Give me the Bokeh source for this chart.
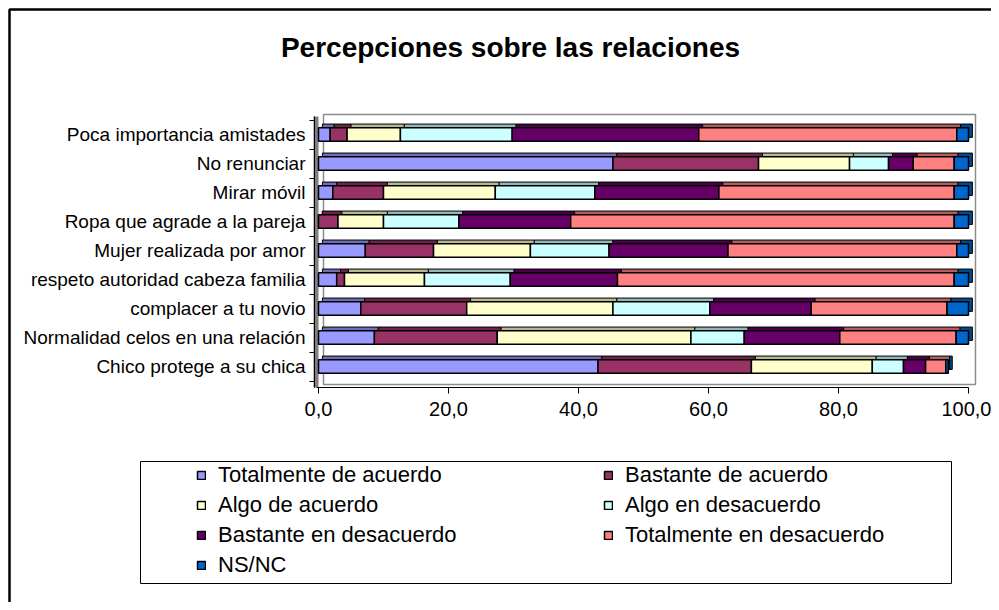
from bokeh.plotting import figure
from bokeh.models import (Range1d, FixedTicker, ColumnDataSource, Legend, LegendItem,
                          BoxAnnotation, Label)
from bokeh.transform import dodge
from bokeh.embed import file_html
from bokeh.resources import INLINE

categories = ["Chico protege a su chica", "Normalidad celos en una relación",
              "complacer a tu novio", "respeto autoridad cabeza familia",
              "Mujer realizada por amor", "Ropa que agrade a la pareja",
              "Mirar móvil", "No renunciar", "Poca importancia amistades"]

series_names = ["Totalmente de acuerdo", "Bastante de acuerdo", "Algo de acuerdo",
                "Algo en desacuerdo", "Bastante en desacuerdo",
                "Totalmente en desacuerdo", "NS/NC"]

totalmente_de_acuerdo = [43.0, 8.6, 6.5, 2.8, 7.2, 0.0, 2.2, 45.3, 1.8]
bastante_de_acuerdo = [23.6, 18.9, 16.3, 1.2, 10.5, 3.0, 7.8, 22.4, 2.6]
algo_de_acuerdo = [18.6, 29.8, 22.5, 12.3, 14.9, 7.0, 17.2, 14.0, 8.2]
algo_en_desacuerdo = [4.8, 8.2, 14.9, 13.2, 12.1, 11.6, 15.3, 6.0, 17.2]
bastante_en_desacuerdo = [3.4, 14.7, 15.6, 16.5, 18.3, 17.2, 19.1, 3.8, 28.7]
totalmente_en_desacuerdo = [3.1, 17.9, 20.9, 51.8, 35.2, 59.0, 36.2, 6.3, 39.7]
ns_nc = [0.4, 1.9, 3.3, 2.2, 1.8, 2.2, 2.2, 2.2, 1.8]

x_ticks = [0, 20, 40, 60, 80, 100]
x_tick_labels = ["0,0", "20,0", "40,0", "60,0", "80,0", "100,0"]

colors = ["#9999FF", "#993366", "#FFFFCC", "#CCFFFF", "#660066", "#FF8080", "#0066CC"]

FONT = "Liberation Sans"


def darker(hex_color, f=0.72):
    r, g, b = (int(hex_color[i:i + 2], 16) for i in (1, 3, 5))
    return "#%02x%02x%02x" % (int(r * f), int(g * f), int(b * f))


series = [totalmente_de_acuerdo, bastante_de_acuerdo, algo_de_acuerdo,
          algo_en_desacuerdo, bastante_en_desacuerdo, totalmente_en_desacuerdo, ns_nc]

ys = list(range(len(categories)))

# frame covers the whole canvas; axes are drawn at fixed locations inside it
W, H = 991, 602
X0, XS = 318.0, 6.5      # pixel of value 0, pixels per unit
Y0, YS = 366.0, 29.0     # pixel of first row, pixels per row


def xv(px):
    return (px - X0) / XS


def yv(py):
    return (Y0 - py) / YS


p = figure(width=W, height=H, title=None,
           x_range=Range1d(xv(0), xv(W)), y_range=Range1d(yv(H), yv(0)),
           output_backend="svg", toolbar_location=None,
           min_border=0, min_border_left=0, min_border_right=0,
           min_border_top=0, min_border_bottom=0)

p.background_fill_color = "white"
p.border_fill_color = "white"
p.outline_line_color = None
p.xgrid.visible = False
p.ygrid.visible = False

# back wall outline (grey) and grey left wall
p.add_layout(BoxAnnotation(left=xv(323), right=xv(975), top=yv(114), bottom=yv(384),
                           fill_alpha=0, line_color="#8c8c8c", line_alpha=1, line_width=1.5,
                           level="underlay"))
p.add_layout(BoxAnnotation(left=xv(313), right=xv(318), top=yv(116), bottom=yv(387),
                           fill_color="#808080", fill_alpha=1, line_color=None,
                           level="underlay"))

bar_h = 0.46
left = [0.0] * len(categories)
sources = []
for vals in series:
    right = [l + v for l, v in zip(left, vals)]
    sources.append(ColumnDataSource(dict(y=ys, left=left, right=right)))
    left = right

# 3D depth faces (drawn first)
for src, c in zip(sources, colors):
    p.hbar(y=dodge("y", 0.13), left=dodge("left", 0.6), right=dodge("right", 0.6),
           height=bar_h, source=src, fill_color=darker(c), line_color="black", line_width=1)

front = []
for src, c in zip(sources, colors):
    r = p.hbar(y="y", left="left", right="right", height=bar_h, source=src,
               fill_color=c, line_color="black", line_width=1.5)
    front.append(r)

# axes
xa = p.xaxis[0]
xa.fixed_location = yv(387)
xa.bounds = (xv(316), 100)
xa.ticker = FixedTicker(ticks=x_ticks)
xa.major_label_overrides = {t: lab for t, lab in zip(x_ticks, x_tick_labels)}
xa.major_label_text_font = FONT
xa.major_label_text_font_size = "20px"
xa.major_label_text_color = "black"
xa.major_tick_out = 6
xa.major_tick_in = 0
xa.minor_tick_out = 0
xa.minor_tick_in = 0
xa.axis_line_color = "black"
xa.axis_line_width = 1
xa.major_tick_line_color = "black"
xa.major_label_standoff = 8

ya = p.yaxis[0]
ya.fixed_location = xv(314)
ya.bounds = (yv(387), yv(116))
ya.ticker = FixedTicker(ticks=ys, minor_ticks=[i - 0.5 for i in range(len(categories) + 1)])
ya.major_label_overrides = {i: c for i, c in enumerate(categories)}
ya.major_label_text_font = FONT
ya.major_label_text_font_size = "19px"
ya.major_label_text_color = "black"
ya.major_tick_out = 0
ya.major_tick_in = 0
ya.minor_tick_out = 5
ya.minor_tick_in = 0
ya.minor_tick_line_color = "black"
ya.axis_line_color = "black"
ya.major_label_standoff = 4

# title
p.add_layout(Label(x=xv(510), y=yv(47), text="Percepciones sobre las relaciones",
                   text_font=FONT, text_font_size="28px", text_font_style="bold",
                   text_color="black", text_align="center", text_baseline="middle"))

# legend (column-major ordering)
order = [0, 2, 4, 6, 1, 3, 5]
legend = Legend(items=[LegendItem(label=series_names[i], renderers=[front[i]]) for i in order],
                ncols=2, location=(196, 24), orientation="vertical",
                label_text_font=FONT, label_text_font_size="22px", label_text_color="black",
                glyph_width=10, glyph_height=10, label_standoff=12,
                label_width=381, spacing=4, padding=4, margin=0,
                border_line_color=None, background_fill_alpha=0)
p.add_layout(legend, "center")

# legend border
p.add_layout(BoxAnnotation(left=xv(140), right=xv(951), top=yv(461), bottom=yv(583),
                           fill_alpha=0, line_color="black", line_alpha=1, line_width=1))

# outer chart frame (continues beyond the visible window)
p.add_layout(BoxAnnotation(left=xv(9), right=xv(W + 50), top=yv(9), bottom=yv(H + 50),
                           fill_alpha=0, line_color="black", line_alpha=1, line_width=2.5))

open("out.html", "w").write(file_html(p, INLINE))
